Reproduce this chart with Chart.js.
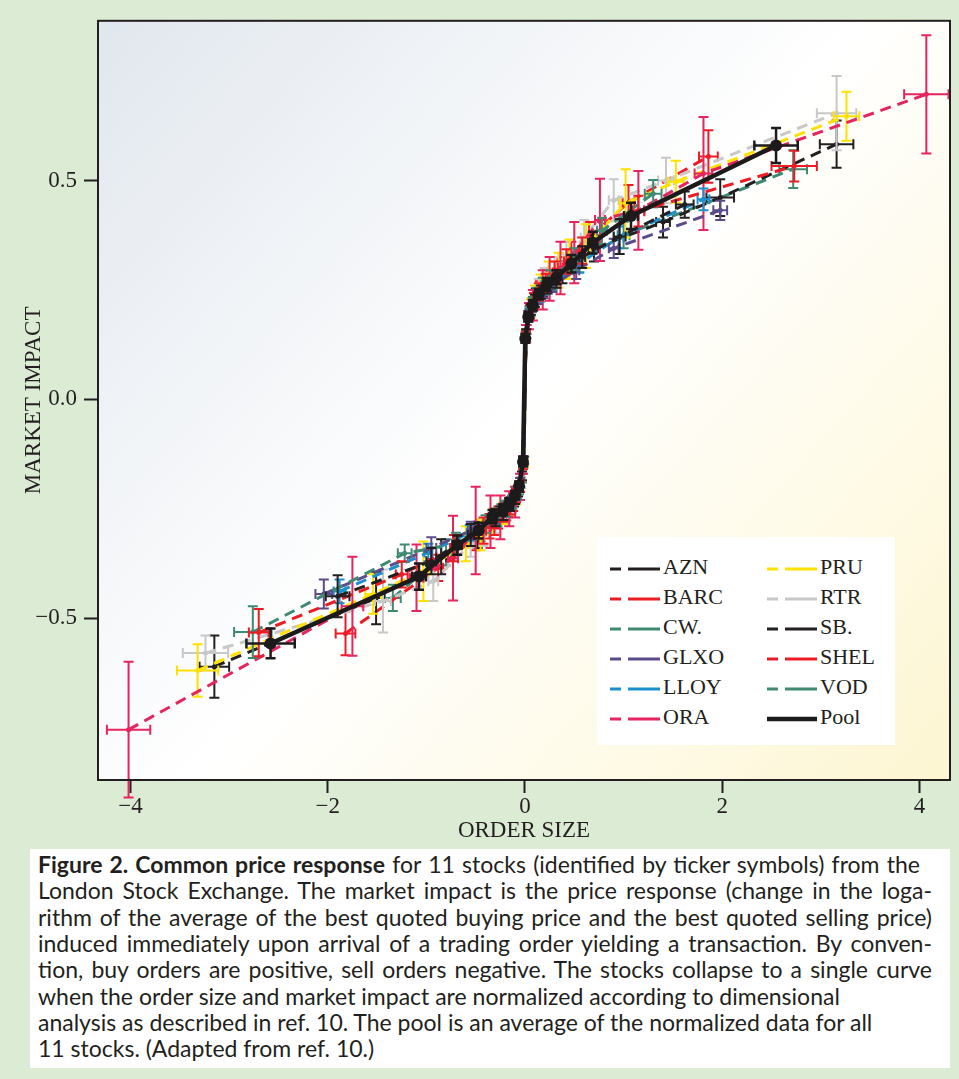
<!DOCTYPE html>
<html>
<head>
<meta charset="utf-8">
<script src="https://cdn.jsdelivr.net/npm/chart.js@4.4.0/dist/chart.umd.min.js"></script>
<style>
  body { margin: 0; width: 959px; height: 1079px; background: #dcecd4; position: relative; overflow: hidden; }
  #plot { position: absolute; left: 0; top: 0; }
  #legend { position: absolute; left: 597px; top: 537px; width: 298px; height: 208px; background: #fff;
            font-family: "Liberation Serif", serif; font-size: 22px; color: #231f20; }
  #legend .item { position: absolute; height: 30px; line-height: 30px; white-space: nowrap; }
  #legend svg { vertical-align: middle; margin-right: 3px; }
  #caption { position: absolute; left: 30px; top: 849px; width: 920px; height: 219px; background: #fff;
             font-family: Lato, "Liberation Sans", sans-serif; font-size: 23px; color: #231f20; }
  #caption .ln { position: absolute; left: 8px; height: 26px; line-height: 26px; white-space: pre; }
  #caption .just { white-space: normal; text-align: justify; text-align-last: justify; }
</style>
</head>
<body>
<canvas id="plot" width="959" height="848"></canvas>
<div id="legend"></div>
<div id="caption"></div>

<script>
// each point: [order size, market impact, x error, y error]
const AZN = [
  [-1.90, -0.450, 0.12, 0.048], [-0.95, -0.370, 0.05, 0.030], [-0.55, -0.310, 0.03, 0.025],
  [-0.30, -0.270, 0.02, 0.020], [-0.22, -0.258, 0.016, 0.018], [-0.15, -0.240, 0.012, 0.015],
  [-0.10, -0.225, 0.01, 0.014], [-0.06, -0.200, 0.008, 0.012], [-0.015, -0.140, 0.005, 0.010],
  [0.012, 0.150, 0.005, 0.010], [0.06, 0.205, 0.008, 0.012], [0.10, 0.225, 0.01, 0.014],
  [0.16, 0.245, 0.012, 0.015], [0.23, 0.260, 0.016, 0.018], [0.32, 0.275, 0.02, 0.020],
  [0.58, 0.325, 0.03, 0.025], [0.96, 0.372, 0.06, 0.040], [1.62, 0.445, 0.09, 0.030]
];
const BARC = [
  [-2.70, -0.533, 0.10, 0.054], [-1.25, -0.400, 0.06, 0.030], [-0.72, -0.340, 0.04, 0.030],
  [-0.42, -0.300, 0.025, 0.030], [-0.31, -0.285, 0.02, 0.025], [-0.22, -0.260, 0.015, 0.020],
  [-0.15, -0.245, 0.012, 0.018], [-0.09, -0.220, 0.008, 0.015], [-0.05, -0.200, 0.006, 0.012],
  [-0.02, -0.150, 0.005, 0.010],
  [0.01, 0.145, 0.005, 0.010], [0.05, 0.200, 0.008, 0.015], [0.09, 0.225, 0.01, 0.018],
  [0.14, 0.245, 0.012, 0.020], [0.21, 0.265, 0.015, 0.022], [0.30, 0.290, 0.02, 0.025],
  [0.42, 0.315, 0.025, 0.028], [0.58, 0.340, 0.03, 0.030], [1.15, 0.430, 0.06, 0.035],
  [2.73, 0.533, 0.23, 0.035]
];
const CW = [
  [-2.76, -0.532, 0.19, 0.059], [-1.22, -0.352, 0.07, 0.020], [-0.70, -0.330, 0.04, 0.025],
  [-0.40, -0.285, 0.025, 0.020], [-0.28, -0.270, 0.018, 0.020], [-0.20, -0.250, 0.012, 0.018],
  [-0.13, -0.235, 0.01, 0.015], [-0.08, -0.215, 0.008, 0.012], [-0.02, -0.145, 0.005, 0.010],
  [0.008, 0.142, 0.005, 0.010], [0.045, 0.200, 0.008, 0.012], [0.08, 0.220, 0.01, 0.014],
  [0.12, 0.240, 0.012, 0.015], [0.18, 0.260, 0.014, 0.018], [0.26, 0.275, 0.018, 0.020],
  [0.50, 0.320, 0.03, 0.025], [0.78, 0.385, 0.05, 0.030], [1.30, 0.470, 0.085, 0.031]
];
const GLXO = [
  [-2.04, -0.445, 0.085, 0.033], [-0.95, -0.340, 0.05, 0.025], [-0.55, -0.300, 0.03, 0.020],
  [-0.30, -0.270, 0.02, 0.015], [-0.20, -0.250, 0.014, 0.014], [-0.14, -0.235, 0.01, 0.012],
  [-0.09, -0.215, 0.008, 0.012], [-0.05, -0.190, 0.006, 0.010], [-0.012, -0.140, 0.004, 0.008],
  [0.01, 0.145, 0.004, 0.008], [0.05, 0.195, 0.006, 0.010], [0.085, 0.215, 0.008, 0.012],
  [0.13, 0.230, 0.01, 0.012], [0.19, 0.245, 0.014, 0.014], [0.28, 0.260, 0.018, 0.015],
  [0.52, 0.295, 0.03, 0.020], [0.90, 0.345, 0.05, 0.022], [1.98, 0.432, 0.07, 0.022]
];
const LLOY = [
  [-1.88, -0.439, 0.06, 0.027], [-0.98, -0.350, 0.04, 0.020], [-0.56, -0.305, 0.03, 0.018],
  [-0.30, -0.270, 0.02, 0.015], [-0.21, -0.255, 0.014, 0.014], [-0.14, -0.235, 0.01, 0.012],
  [-0.09, -0.220, 0.008, 0.012], [-0.05, -0.190, 0.006, 0.010], [-0.01, -0.140, 0.004, 0.008],
  [0.01, 0.148, 0.004, 0.008], [0.055, 0.200, 0.006, 0.010], [0.09, 0.220, 0.008, 0.012],
  [0.15, 0.235, 0.01, 0.012], [0.21, 0.255, 0.014, 0.015], [0.30, 0.270, 0.018, 0.015],
  [0.55, 0.310, 0.03, 0.020], [0.95, 0.370, 0.05, 0.025], [1.81, 0.457, 0.06, 0.025]
];
const ORA = [
  [-4.02, -0.755, 0.22, 0.155], [-1.75, -0.473, 0.11, 0.113], [-1.10, -0.408, 0.07, 0.076],
  [-0.73, -0.363, 0.05, 0.097], [-0.50, -0.300, 0.03, 0.100], [-0.35, -0.280, 0.02, 0.060],
  [-0.25, -0.270, 0.02, 0.050], [-0.16, -0.250, 0.012, 0.040], [-0.10, -0.235, 0.01, 0.035],
  [-0.05, -0.200, 0.006, 0.030], [-0.02, -0.150, 0.005, 0.020],
  [0.012, 0.150, 0.005, 0.020], [0.04, 0.190, 0.006, 0.030], [0.08, 0.215, 0.01, 0.035],
  [0.18, 0.250, 0.015, 0.045], [0.25, 0.275, 0.02, 0.050], [0.36, 0.300, 0.025, 0.060],
  [0.50, 0.335, 0.03, 0.070], [0.76, 0.410, 0.05, 0.094], [1.15, 0.432, 0.06, 0.090],
  [1.81, 0.516, 0.09, 0.129], [4.07, 0.697, 0.225, 0.135]
];
const PRU = [
  [-3.32, -0.620, 0.21, 0.060], [-1.54, -0.445, 0.08, 0.045], [-1.03, -0.393, 0.06, 0.068],
  [-0.60, -0.330, 0.035, 0.040], [-0.45, -0.310, 0.03, 0.035], [-0.32, -0.280, 0.02, 0.030],
  [-0.22, -0.260, 0.015, 0.025], [-0.15, -0.245, 0.012, 0.020], [-0.09, -0.220, 0.008, 0.020],
  [-0.05, -0.195, 0.006, 0.015], [-0.012, -0.145, 0.004, 0.010],
  [0.012, 0.150, 0.004, 0.010], [0.06, 0.210, 0.008, 0.020], [0.10, 0.235, 0.01, 0.025],
  [0.16, 0.255, 0.012, 0.030], [0.24, 0.280, 0.016, 0.035], [0.34, 0.295, 0.02, 0.040],
  [0.45, 0.320, 0.03, 0.045], [0.62, 0.350, 0.04, 0.050], [1.02, 0.448, 0.06, 0.078],
  [1.53, 0.497, 0.08, 0.048], [3.26, 0.647, 0.13, 0.056]
];
const RTR = [
  [-3.24, -0.580, 0.23, 0.040], [-1.44, -0.461, 0.08, 0.072], [-0.93, -0.416, 0.05, 0.045],
  [-0.55, -0.330, 0.03, 0.030], [-0.42, -0.305, 0.025, 0.030], [-0.30, -0.280, 0.02, 0.025],
  [-0.20, -0.260, 0.015, 0.020], [-0.13, -0.240, 0.01, 0.020], [-0.08, -0.215, 0.008, 0.015],
  [-0.04, -0.190, 0.006, 0.012], [-0.01, -0.140, 0.004, 0.010],
  [0.01, 0.148, 0.004, 0.010], [0.05, 0.205, 0.008, 0.015], [0.09, 0.230, 0.01, 0.020],
  [0.14, 0.250, 0.012, 0.025], [0.20, 0.270, 0.015, 0.030], [0.30, 0.290, 0.02, 0.035],
  [0.42, 0.325, 0.03, 0.035], [0.60, 0.370, 0.035, 0.040], [0.90, 0.455, 0.05, 0.048],
  [1.43, 0.500, 0.08, 0.052], [3.16, 0.654, 0.20, 0.085]
];
const SB = [
  [-3.15, -0.611, 0.15, 0.071], [-1.51, -0.454, 0.08, 0.060], [-0.85, -0.360, 0.05, 0.040],
  [-0.48, -0.310, 0.03, 0.030], [-0.25, -0.265, 0.018, 0.020], [-0.17, -0.250, 0.012, 0.018],
  [-0.11, -0.230, 0.01, 0.015], [-0.07, -0.210, 0.008, 0.012], [-0.03, -0.175, 0.005, 0.010],
  [0.015, 0.160, 0.005, 0.010], [0.035, 0.190, 0.006, 0.012], [0.07, 0.215, 0.008, 0.015],
  [0.11, 0.235, 0.01, 0.018], [0.18, 0.255, 0.012, 0.020], [0.38, 0.290, 0.025, 0.025],
  [0.70, 0.345, 0.045, 0.030], [1.40, 0.405, 0.07, 0.035], [1.98, 0.461, 0.14, 0.042],
  [3.16, 0.583, 0.17, 0.054]
];
const SHEL = [
  [-1.82, -0.535, 0.10, 0.050], [-0.88, -0.385, 0.05, 0.030], [-0.50, -0.315, 0.03, 0.030],
  [-0.36, -0.290, 0.022, 0.028], [-0.27, -0.270, 0.018, 0.025], [-0.19, -0.255, 0.014, 0.022],
  [-0.12, -0.235, 0.01, 0.020], [-0.08, -0.215, 0.008, 0.015], [-0.04, -0.190, 0.006, 0.012],
  [-0.01, -0.145, 0.004, 0.010],
  [0.01, 0.150, 0.004, 0.010], [0.05, 0.205, 0.008, 0.015], [0.09, 0.230, 0.01, 0.020],
  [0.15, 0.250, 0.012, 0.020], [0.22, 0.270, 0.015, 0.025], [0.33, 0.295, 0.02, 0.030],
  [0.47, 0.330, 0.03, 0.030], [0.65, 0.370, 0.04, 0.035], [1.05, 0.450, 0.06, 0.040],
  [1.86, 0.555, 0.095, 0.060]
];
const VOD = [
  [-1.34, -0.454, 0.08, 0.030], [-0.80, -0.350, 0.05, 0.030], [-0.45, -0.300, 0.03, 0.025],
  [-0.24, -0.260, 0.015, 0.020], [-0.16, -0.245, 0.012, 0.018], [-0.10, -0.225, 0.008, 0.015],
  [-0.06, -0.205, 0.006, 0.012], [-0.03, -0.180, 0.005, 0.010], [-0.008, -0.140, 0.004, 0.008],
  [0.008, 0.145, 0.004, 0.008], [0.045, 0.195, 0.006, 0.012], [0.08, 0.218, 0.008, 0.012],
  [0.13, 0.235, 0.01, 0.015], [0.19, 0.255, 0.014, 0.018], [0.28, 0.270, 0.018, 0.020],
  [0.55, 0.315, 0.03, 0.025], [1.00, 0.375, 0.06, 0.030], [2.72, 0.526, 0.14, 0.043]
];
const POOL = [
  [-2.58, -0.558, 0.245, 0.034], [-1.075, -0.405, 0.07, 0.030], [-0.687, -0.333, 0.045, 0.022],
  [-0.47, -0.300, 0.03, 0.018], [-0.33, -0.268, 0.022, 0.015], [-0.22, -0.253, 0.016, 0.012],
  [-0.16, -0.238, 0.012, 0.012], [-0.10, -0.219, 0.009, 0.010], [-0.06, -0.198, 0.007, 0.010],
  [-0.02, -0.143, 0.005, 0.010],
  [0.003, 0.139, 0.005, 0.010], [0.033, 0.188, 0.006, 0.010], [0.078, 0.215, 0.008, 0.012],
  [0.139, 0.240, 0.012, 0.012], [0.22, 0.262, 0.016, 0.014], [0.321, 0.279, 0.022, 0.016],
  [0.47, 0.310, 0.03, 0.020], [0.687, 0.358, 0.045, 0.025], [1.075, 0.419, 0.07, 0.030],
  [2.546, 0.580, 0.22, 0.040]
];

const tickers = ['AZN', 'BARC', 'CW.', 'GLXO', 'LLOY', 'ORA', 'PRU', 'RTR', 'SB.', 'SHEL', 'VOD'];
const stockData = [AZN, BARC, CW, GLXO, LLOY, ORA, PRU, RTR, SB, SHEL, VOD];
const colors = ['#231f20', '#ed1c24', '#3f8a73', '#5c4b8a', '#1b8fcb', '#e6245e',
                '#ffe100', '#c8c8c8', '#231f20', '#ed1c24', '#3f8a73'];
const poolColor = '#1c1a1b';

const xTicks = [-4, -2, 0, 2, 4];
const xTickLabels = ['\u22124', '\u22122', '0', '2', '4'];
const yTicks = [-0.5, 0, 0.5];
const yTickLabels = ['\u22120.5', '0.0', '0.5'];

const toPoints = arr => arr.map(p => ({ x: p[0], y: p[1], dx: p[2], dy: p[3] }));

const datasets = tickers.map((name, i) => ({
  label: name,
  data: toPoints(stockData[i]),
  showLine: true,
  borderColor: colors[i],
  backgroundColor: colors[i],
  borderWidth: 3,
  borderDash: [11, 7],
  pointRadius: 2.5,
  pointBorderWidth: 0,
  errWidth: 2,
  capSize: 5,
  order: 1
}));
datasets.push({
  label: 'Pool',
  data: toPoints(POOL),
  showLine: true,
  borderColor: poolColor,
  backgroundColor: poolColor,
  borderWidth: 4.5,
  pointRadius: 6,
  pointBorderWidth: 0,
  errWidth: 2.5,
  capSize: 5,
  order: 0
});

// x and y error bars, drawn right after each dataset so layering follows the series
const errorBars = {
  id: 'errorBars',
  afterDatasetDraw(chart, args) {
    const ds = chart.data.datasets[args.index];
    const xs = chart.scales.x, ys = chart.scales.y;
    const ctx = chart.ctx;
    const c = ds.capSize;
    ctx.save();
    ctx.strokeStyle = ds.borderColor;
    ctx.lineWidth = ds.errWidth;
    ctx.setLineDash([]);
    ds.data.forEach(p => {
      const px = xs.getPixelForValue(p.x), py = ys.getPixelForValue(p.y);
      const x0 = xs.getPixelForValue(p.x - p.dx), x1 = xs.getPixelForValue(p.x + p.dx);
      const y0 = ys.getPixelForValue(p.y - p.dy), y1 = ys.getPixelForValue(p.y + p.dy);
      ctx.beginPath();
      ctx.moveTo(x0, py); ctx.lineTo(x1, py);
      ctx.moveTo(px, y0); ctx.lineTo(px, y1);
      ctx.moveTo(x0, py - c); ctx.lineTo(x0, py + c);
      ctx.moveTo(x1, py - c); ctx.lineTo(x1, py + c);
      ctx.moveTo(px - c, y0); ctx.lineTo(px + c, y0);
      ctx.moveTo(px - c, y1); ctx.lineTo(px + c, y1);
      ctx.stroke();
    });
    ctx.restore();
  }
};

const plotBackground = {
  id: 'plotBackground',
  beforeDraw(chart) {
    const { ctx, chartArea: a } = chart;
    const g = ctx.createLinearGradient(a.left, a.top, a.right, a.bottom);
    g.addColorStop(0, '#e1e7ee');
    g.addColorStop(0.5, '#ffffff');
    g.addColorStop(1, '#fdf6d2');
    ctx.save();
    ctx.fillStyle = g;
    ctx.fillRect(a.left, a.top, a.right - a.left, a.bottom - a.top);
    ctx.restore();
  },
  afterDraw(chart) {
    const { ctx, chartArea: a } = chart;
    ctx.save();
    ctx.strokeStyle = '#231f20';
    ctx.lineWidth = 2;
    ctx.strokeRect(a.left, a.top, a.right - a.left, a.bottom - a.top);
    ctx.restore();
  }
};

const axisFont = { family: '"Liberation Serif", serif', size: 23 };

new Chart(document.getElementById('plot'), {
  type: 'scatter',
  data: { datasets },
  plugins: [plotBackground, errorBars],
  options: {
    responsive: false,
    animation: false,
    events: [],
    layout: { padding: { top: 19, right: 9, left: 0, bottom: 0 } },
    plugins: { legend: { display: false }, tooltip: { enabled: false } },
    scales: {
      x: {
        type: 'linear',
        min: -4.33,
        max: 4.31,
        afterFit: s => { s.height = 68; },
        afterBuildTicks: s => { s.ticks = xTicks.map(v => ({ value: v })); },
        ticks: { font: axisFont, color: '#231f20', padding: 0, maxRotation: 0,
                 callback: (v, i) => xTickLabels[i] },
        grid: { drawOnChartArea: false, drawTicks: true, tickLength: 13, tickWidth: 2, tickColor: '#231f20' },
        border: { display: true, color: '#231f20', width: 2 },
        title: { display: true, text: 'ORDER SIZE', font: axisFont, color: '#231f20', padding: { top: 0, bottom: 3 } }
      },
      y: {
        type: 'linear',
        min: -0.87,
        max: 0.865,
        afterFit: s => { s.width = 98; },
        afterBuildTicks: s => { s.ticks = yTicks.map(v => ({ value: v })); },
        ticks: { font: axisFont, color: '#231f20', padding: 7,
                 callback: (v, i) => yTickLabels[i] },
        grid: { drawOnChartArea: false, drawTicks: true, tickLength: 14, tickWidth: 2, tickColor: '#231f20' },
        border: { display: true, color: '#231f20', width: 2 },
        title: { display: true, text: 'MARKET IMPACT', font: axisFont, color: '#231f20', padding: { top: 20, bottom: 0 } }
      }
    }
  }
});

// legend: two columns of six, dashed samples like the plotted lines
const legend = document.getElementById('legend');
const entries = tickers.map((t, i) => ({ name: t, color: colors[i], solid: false }))
  .concat([{ name: 'Pool', color: poolColor, solid: true }]);
entries.forEach((e, i) => {
  const col = Math.floor(i / 6), row = i % 6;
  const item = document.createElement('div');
  item.className = 'item';
  item.style.left = (col === 0 ? 13 : 170) + 'px';
  item.style.top = (15 + row * 30) + 'px';
  const dash = e.solid ? '' : 'stroke-dasharray="11 7 32"';
  const w = e.solid ? 4.5 : 3;
  item.innerHTML = `<svg width="50" height="8"><line x1="0" y1="4" x2="50" y2="4" stroke="${e.color}" stroke-width="${w}" ${dash}/></svg>${e.name}`;
  legend.appendChild(item);
});

const captionLines = [
  '<b>Figure 2. Common price response</b> for 11 stocks (identified by ticker symbols) from the',
  'London Stock Exchange. The market impact is the price response (change in the loga-',
  'rithm of the average of the best quoted buying price and the best quoted selling price)',
  'induced immediately upon arrival of a trading order yielding a transaction. By conven-',
  'tion, buy orders are positive, sell orders negative. The stocks collapse to a single curve',
  'when the order size and market impact are normalized according to dimensional',
  'analysis as described in ref. 10. The pool is an average of the normalized data for all',
  '11 stocks. (Adapted from ref. 10.)'
];
// justified lines and the width each one fills
const captionWidths = [882, 894, 894, 894, 894];
const caption = document.getElementById('caption');
captionLines.forEach((t, i) => {
  const d = document.createElement('div');
  d.className = 'ln' + (i < captionWidths.length ? ' just' : '');
  if (i < captionWidths.length) d.style.width = captionWidths[i] + 'px';
  d.style.top = (2 + i * 26.3) + 'px';
  d.innerHTML = t;
  caption.appendChild(d);
});
</script>
</body>
</html>
